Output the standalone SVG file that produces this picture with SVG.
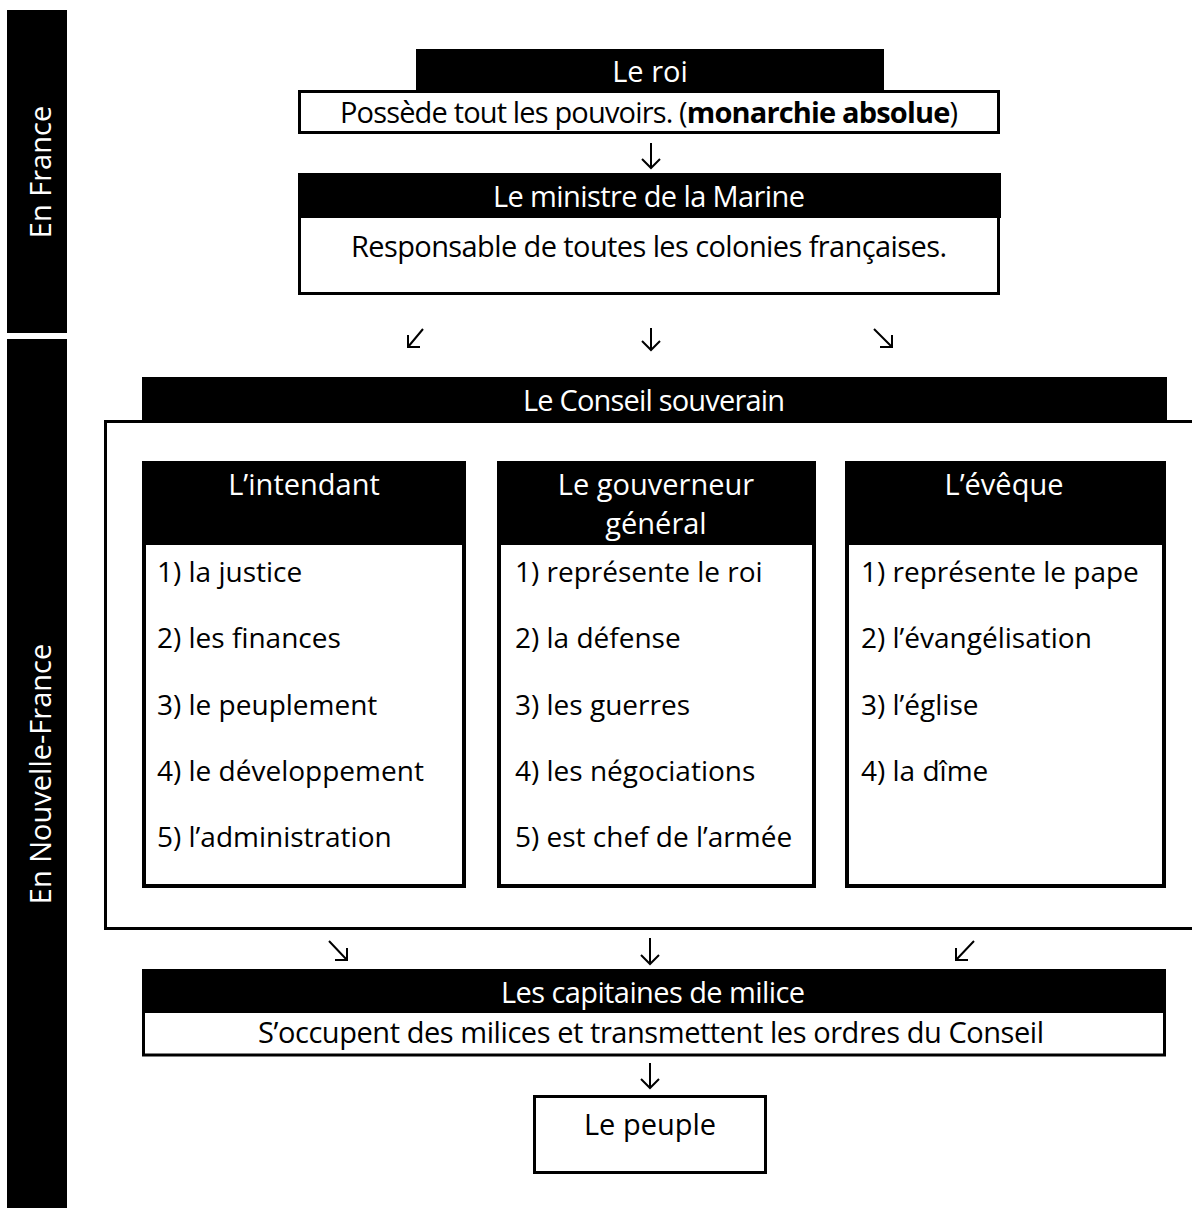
<svg xmlns="http://www.w3.org/2000/svg" width="1192" height="1208" viewBox="0 0 1192 1208">
<style>
.bg{fill:#fff}
.blk{fill:#000}
.box{fill:#fff;stroke:#000;stroke-width:3}
.sbox{fill:#fff;stroke:#000;stroke-width:4}
text{font-family:"Open Sans","Liberation Sans",sans-serif;font-size:29px;fill:#000}
.it{font-size:28px}
.w{fill:#fff}
.c{text-anchor:middle}
.arrow{fill:none;stroke:#000;stroke-width:2;stroke-linecap:butt;stroke-linejoin:miter}
</style>
<rect class="bg" x="0" y="0" width="1192" height="1208"/>

<g id="side-france">
<rect class="blk" x="7" y="10" width="60" height="323"/>
<text class="w c" transform="translate(51,172) rotate(-90)">En France</text>
</g>
<g id="side-nouvelle-france">
<rect class="blk" x="7" y="339" width="60" height="869"/>
<text class="w c" transform="translate(51,774) rotate(-90)">En Nouvelle-France</text>
</g>

<g id="roi">
<rect class="blk" x="416" y="49" width="468" height="42"/>
<rect class="box" x="299.5" y="91.5" width="699" height="41"/>
<text class="w c" x="650" y="82">Le roi</text>
<text class="c" x="649" y="123" textLength="618">Possède tout les pouvoirs. (<tspan font-weight="bold">monarchie absolue</tspan>)</text>
</g>

<g id="ministre">
<rect class="box" x="299.5" y="216.5" width="699" height="77"/>
<rect class="blk" x="298" y="173" width="703" height="45"/>
<text class="w c" x="649" y="207" textLength="312">Le ministre de la Marine</text>
<text class="c" x="649" y="257" textLength="596">Responsable de toutes les colonies françaises.</text>
</g>

<g id="conseil">
<rect class="box" x="105.5" y="421.5" width="1100" height="507"/>
<rect class="blk" x="142" y="377" width="1025" height="43"/>
<text class="w c" x="654" y="411" textLength="262">Le Conseil souverain</text>
</g>

<g id="intendant">
<rect class="sbox" x="144" y="500" width="320" height="386"/>
<rect class="blk" x="142" y="461" width="324" height="84"/>
<text class="w c" x="304" y="495">L’intendant</text>
<text class="it" x="157" y="582">1) la justice</text>
<text class="it" x="157" y="648">2) les finances</text>
<text class="it" x="157" y="715">3) le peuplement</text>
<text class="it" x="157" y="781">4) le développement</text>
<text class="it" x="157" y="847">5) l’administration</text>
</g>

<g id="gouverneur">
<rect class="sbox" x="499" y="500" width="315" height="386"/>
<rect class="blk" x="497" y="461" width="319" height="84"/>
<text class="w c" x="656" y="495">Le gouverneur</text>
<text class="w c" x="656" y="534">général</text>
<text class="it" x="515" y="582">1) représente le roi</text>
<text class="it" x="515" y="648">2) la défense</text>
<text class="it" x="515" y="715">3) les guerres</text>
<text class="it" x="515" y="781">4) les négociations</text>
<text class="it" x="515" y="847">5) est chef de l’armée</text>
</g>

<g id="eveque">
<rect class="sbox" x="847" y="500" width="317" height="386"/>
<rect class="blk" x="845" y="461" width="321" height="84"/>
<text class="w c" x="1004" y="495">L’évêque</text>
<text class="it" x="861" y="582">1) représente le pape</text>
<text class="it" x="861" y="648">2) l’évangélisation</text>
<text class="it" x="861" y="715">3) l’église</text>
<text class="it" x="861" y="781">4) la dîme</text>
</g>

<g id="capitaines">
<rect class="box" x="143.5" y="1000" width="1021" height="55"/>
<rect class="blk" x="142" y="969" width="1024" height="44"/>
<text class="w c" x="653" y="1003" textLength="304">Les capitaines de milice</text>
<text class="c" x="651" y="1043" textLength="786">S’occupent des milices et transmettent les ordres du Conseil</text>
</g>

<g id="peuple">
<rect class="box" x="534.5" y="1096.5" width="231" height="76"/>
<text class="c" x="650" y="1135">Le peuple</text>
</g>

<g id="connectors">
<path class="arrow" d="M651 143V168M642 159L651 168L660 159"/>
<path class="arrow" d="M423 329L408 347M408 335V347H420"/>
<path class="arrow" d="M651 328V350M642 341L651 350L660 341"/>
<path class="arrow" d="M874 329L892 347M892 335V347H880"/>
<path class="arrow" d="M329 941L347 960M347 948V960H335"/>
<path class="arrow" d="M650 938V964M641 955L650 964L659 955"/>
<path class="arrow" d="M974 941L956 960M956 948V960H968"/>
<path class="arrow" d="M650 1063V1088M641 1079L650 1088L659 1079"/>
</g>
</svg>
